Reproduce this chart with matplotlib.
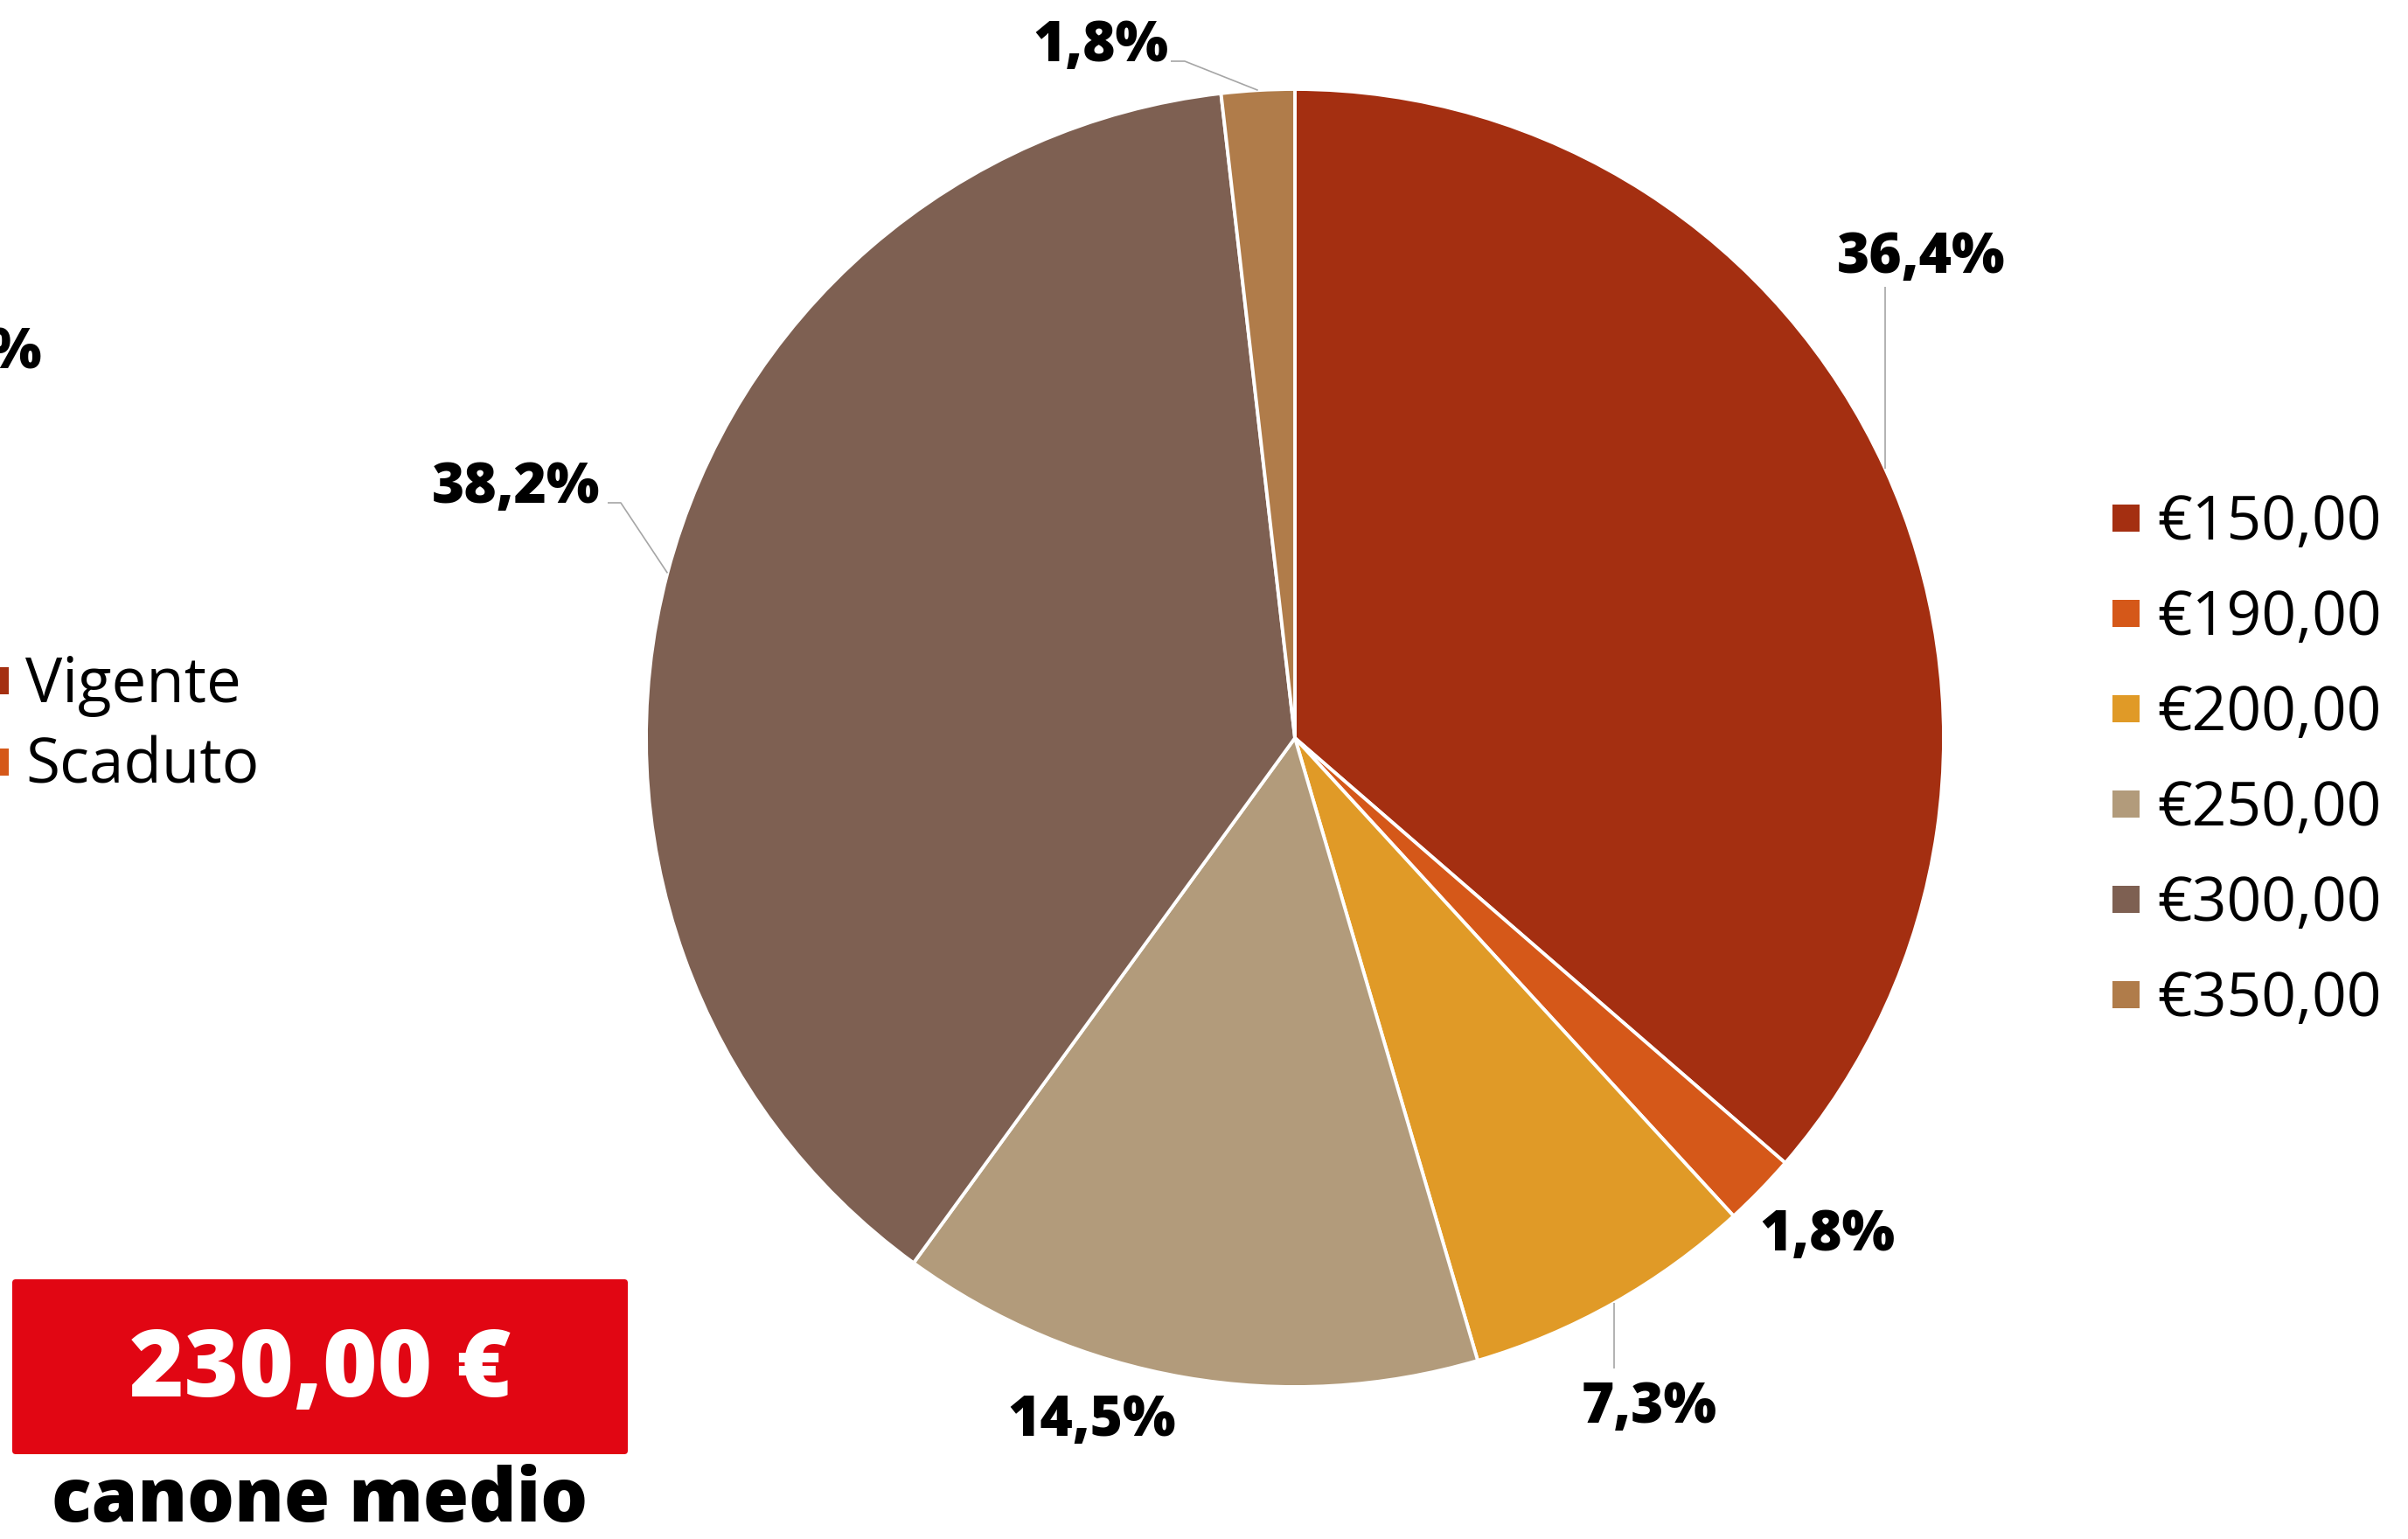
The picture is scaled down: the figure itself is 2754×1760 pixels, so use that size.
import matplotlib
matplotlib.use("Agg")
import matplotlib.pyplot as plt
from matplotlib.patches import FancyBboxPatch, Rectangle
import numpy as np

# --- data -------------------------------------------------------------
canone_labels = ["€150,00", "€190,00", "€200,00", "€250,00", "€300,00", "€350,00"]
canone_counts = [20, 1, 4, 8, 21, 1]
canone_colors = ["#A42F11", "#D55819", "#E09A27", "#B29B7B", "#7E6052", "#B07C4A"]

stato_labels = ["Vigente", "Scaduto"]
stato_colors = ["#A42F11", "#D55819"]

canone_medio = "230,00 €"
canone_medio_caption = "canone medio"

# --- canvas in pixel units (y measured from the top) -------------------
W, H = 2754, 1760
fig = plt.figure(figsize=(W / 100, H / 100), dpi=100)
ax = fig.add_axes([0, 0, 1, 1])

FONT = ["Open Sans", "DejaVu Sans"]

# --- pie ---------------------------------------------------------------
cx, cy, R = 1481, 844, 742
total = sum(canone_counts)
# y axis is inverted below, so counterclock=True in data space runs clockwise
# on screen and -90 degrees is the top of the pie.
wedges, _ = ax.pie(canone_counts, colors=canone_colors, startangle=-90,
                   counterclock=True, center=(cx, cy), radius=R,
                   wedgeprops=dict(edgecolor="white", linewidth=2.8),
                   frame=True)
ax.set_xlim(0, W)
ax.set_ylim(H, 0)
ax.set_aspect("equal")
ax.axis("off")

def pct_text(v):
    return f"{100 * v / total:.1f}".replace(".", ",") + "%"

def arc_point(w):
    mid = np.deg2rad((w.theta1 + w.theta2) / 2)
    return cx + R * np.cos(mid), cy + R * np.sin(mid)

# label placement: text centre x, text baseline y, elbow points towards the text
label_layout = [
    dict(xy=(2197, 312), path=[(None, 328)]),                 # 36,4%
    dict(xy=(2090, 1430), path=None),                        # 1,8%
    dict(xy=(1886, 1627), path=[(None, 1565)]),               # 7,3%
    dict(xy=(1249, 1642), path=None),                        # 14,5%
    dict(xy=(590, 575), path=[(710, 575), (695, 575)]),       # 38,2%
    dict(xy=(1259, 70), path=[(1355, 70), (1339, 70)]),       # 1,8%
]

for w, v, lay in zip(wedges, canone_counts, label_layout):
    tx, ty = lay["xy"]
    ax.text(tx, ty, pct_text(v), ha="center", va="baseline", fontsize=46,
            fontweight="heavy", family=FONT, color="black")
    if lay["path"]:
        px, py = arc_point(w)
        xs, ys = [px], [py]
        for ex, ey in lay["path"]:
            xs.append(px if ex is None else ex)
            ys.append(ey)
        ax.plot(xs, ys, color="#A6A6A6", linewidth=1.2, solid_capstyle="butt")

# --- legend on the right ----------------------------------------------
leg_x, leg_y0, leg_dy, sq = 2416, 593, 109, 31
for i, (lab, col) in enumerate(zip(canone_labels, canone_colors)):
    yy = leg_y0 + i * leg_dy
    ax.add_patch(Rectangle((leg_x, yy - sq / 2), sq, sq, facecolor=col,
                           edgecolor="none"))
    ax.text(leg_x + 51, yy + 24, lab, ha="left", va="baseline", fontsize=50,
            family=FONT, color="black")

# --- neighbouring panel at the left edge --------------------------------
ax.text(47, 422, "%", ha="right", va="baseline", fontsize=46,
        fontweight="heavy", family=FONT, color="black")
for i, (lab, col) in enumerate(zip(stato_labels, stato_colors)):
    yy = 779 + i * 93
    ax.add_patch(Rectangle((-21, yy - sq / 2), sq, sq, facecolor=col,
                           edgecolor="none"))
    ax.text(29, yy + 24, lab, ha="left", va="baseline", fontsize=51,
            family=FONT, color="black")

# --- average rent box -------------------------------------------------
box = FancyBboxPatch((14, 1463), 704, 200,
                     boxstyle="round,pad=0,rounding_size=4",
                     facecolor="#E10613", edgecolor="none")
ax.add_patch(box)
ax.text(366, 1597, canone_medio, ha="center", va="baseline", fontsize=77,
        fontweight="heavy", family=FONT, color="white")
ax.text(366, 1740, canone_medio_caption, ha="center", va="baseline",
        fontsize=61, fontweight="heavy", family=FONT, color="black")

fig.savefig("out.png", dpi=100, facecolor="white")
